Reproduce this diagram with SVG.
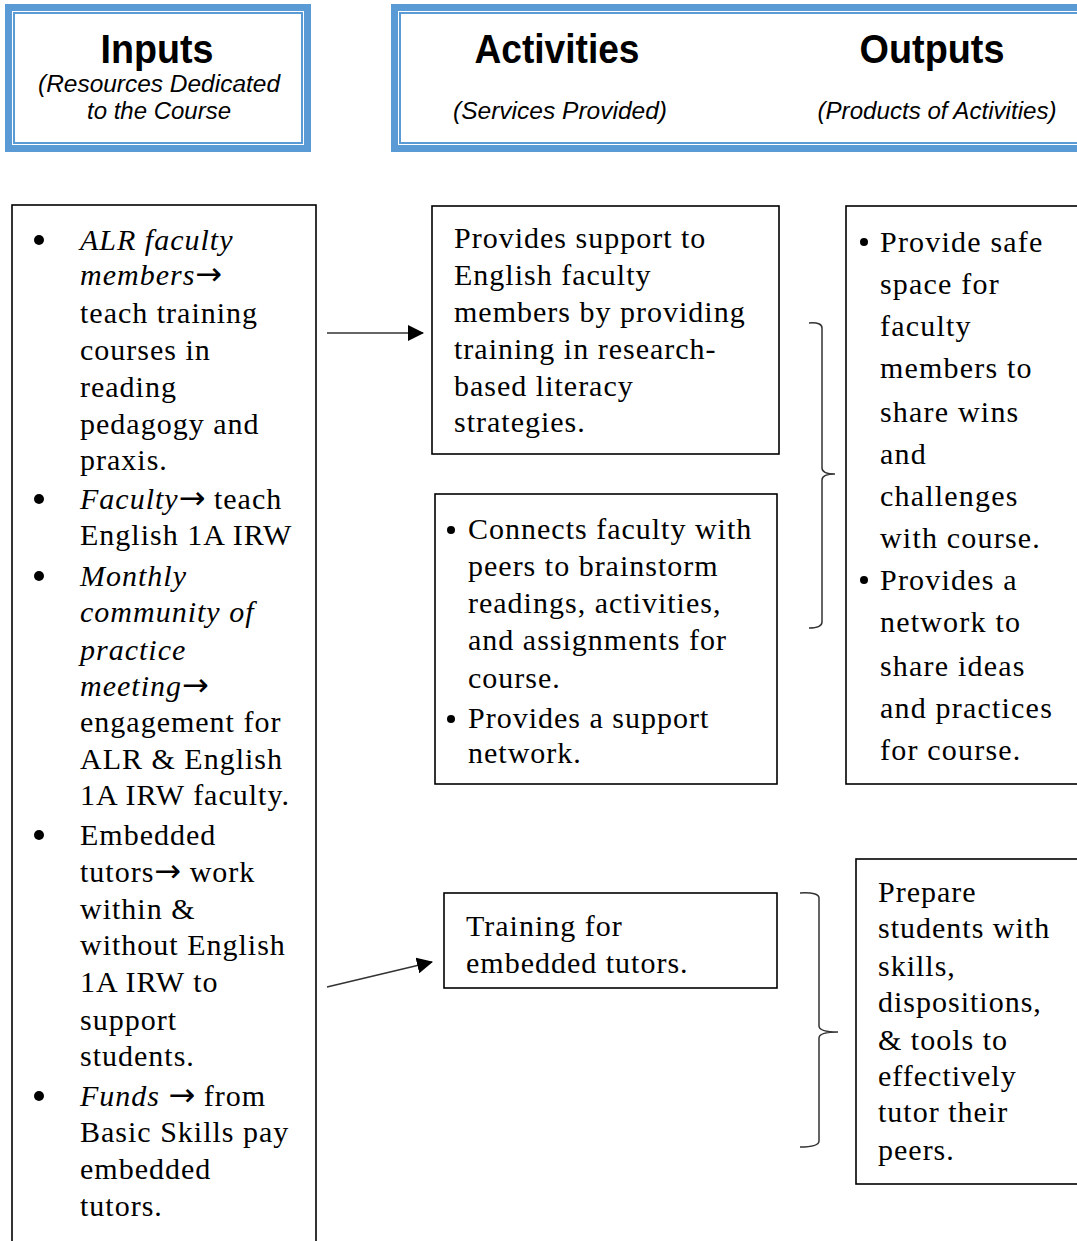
<svg xmlns="http://www.w3.org/2000/svg" width="1077" height="1241" viewBox="0 0 1077 1241">
<style>
.hb{fill:none;stroke:#5b9bd5;}
.box{fill:#fff;stroke:#000;stroke-width:1.6;}
.t{font-family:"Liberation Serif","Times New Roman",serif;font-size:30px;letter-spacing:1px;fill:#000;}
.w{letter-spacing:1.2px;}
.i{font-style:italic;}
.ar{font-family:"DejaVu Sans",sans-serif;font-size:32px;letter-spacing:0;}
.h{font-family:"Liberation Sans",Arial,sans-serif;font-weight:bold;font-size:40px;fill:#000;text-anchor:middle;}
.s{font-family:"Liberation Sans",Arial,sans-serif;font-style:italic;font-size:23px;fill:#000;text-anchor:middle;}
.c{fill:none;stroke:#333;stroke-width:1.5;}
.br{fill:none;stroke:#333;stroke-width:1.5;}
.bl{fill:#000;}
</style>
<defs>
<marker id="ah" markerWidth="16" markerHeight="16" refX="15" refY="8" orient="auto" markerUnits="userSpaceOnUse" viewBox="0 0 16 16">
<path d="M0,0 L16,8 L0,16 z" fill="#000"/>
</marker>
</defs>
<rect width="1077" height="1241" fill="#fff"/>

<g id="header-inputs">
<rect class="hb" x="8.5" y="7.5" width="299" height="141" stroke-width="7"/>
<rect class="hb" x="14" y="13" width="288" height="130" stroke-width="2"/>
<text class="h" x="157" y="63" textLength="113" lengthAdjust="spacingAndGlyphs">Inputs</text>
<text class="s" x="159" y="92" textLength="242" lengthAdjust="spacingAndGlyphs">(Resources Dedicated</text>
<text class="s" x="159" y="119" textLength="144" lengthAdjust="spacingAndGlyphs">to the Course</text>
</g>

<g id="header-activities-outputs">
<rect class="hb" x="394.5" y="7.5" width="700" height="141" stroke-width="7"/>
<rect class="hb" x="400" y="13" width="700" height="130" stroke-width="2"/>
<text class="h" x="557" y="63" textLength="165" lengthAdjust="spacingAndGlyphs">Activities</text>
<text class="h" x="932" y="63" textLength="145" lengthAdjust="spacingAndGlyphs">Outputs</text>
<text class="s" x="560" y="119" textLength="214" lengthAdjust="spacingAndGlyphs">(Services Provided)</text>
<text class="s" x="937" y="119" textLength="239" lengthAdjust="spacingAndGlyphs">(Products of Activities)</text>
</g>

<g id="inputs">
<rect class="box" x="12" y="205" width="304" height="1045"/>
<circle class="bl" cx="39" cy="240" r="5"/>
<circle class="bl" cx="39" cy="499" r="5"/>
<circle class="bl" cx="39" cy="576" r="5"/>
<circle class="bl" cx="39" cy="835" r="5"/>
<circle class="bl" cx="39" cy="1096" r="5"/>
<g class="t">
<text x="80" y="250" class="i">ALR faculty</text>
<text x="80" y="285"><tspan class="i">members</tspan><tspan class="ar">→</tspan></text>
<text x="80" y="323">teach training</text>
<text x="80" y="360">courses in</text>
<text x="80" y="397">reading</text>
<text x="80" y="434">pedagogy and</text>
<text x="80" y="470">praxis.</text>
<text x="80" y="509"><tspan class="i">Faculty</tspan><tspan class="ar">→</tspan> teach</text>
<text x="80" y="545">English 1A IRW</text>
<text x="80" y="586" class="i">Monthly</text>
<text x="80" y="622" class="i">community of</text>
<text x="80" y="660" class="i">practice</text>
<text x="80" y="696"><tspan class="i">meeting</tspan><tspan class="ar">→</tspan></text>
<text x="80" y="732">engagement for</text>
<text x="80" y="769">ALR &amp; English</text>
<text x="80" y="805">1A IRW faculty.</text>
<text x="80" y="845">Embedded</text>
<text x="80" y="882">tutors<tspan class="ar">→</tspan> work</text>
<text x="80" y="919">within &amp;</text>
<text x="80" y="955">without English</text>
<text x="80" y="992">1A IRW to</text>
<text x="80" y="1030">support</text>
<text x="80" y="1066">students.</text>
<text x="80" y="1106"><tspan class="i">Funds</tspan> <tspan class="ar">→</tspan> from</text>
<text x="80" y="1142">Basic Skills pay</text>
<text x="80" y="1179">embedded</text>
<text x="80" y="1216">tutors.</text>
</g>
</g>

<g id="activity-1">
<rect class="box" x="432" y="206" width="347" height="248"/>
<g class="t">
<text x="454" y="248">Provides support to</text>
<text x="454" y="285">English faculty</text>
<text x="454" y="322">members by providing</text>
<text x="454" y="359">training in research-</text>
<text x="454" y="396">based literacy</text>
<text x="454" y="432">strategies.</text>
</g>
</g>

<g id="activity-2">
<rect class="box" x="435" y="494" width="342" height="290"/>
<circle class="bl" cx="451" cy="530" r="4"/>
<circle class="bl" cx="451" cy="719" r="4"/>
<g class="t">
<text x="468" y="539">Connects faculty with</text>
<text x="468" y="576">peers to brainstorm</text>
<text x="468" y="613">readings, activities,</text>
<text x="468" y="650">and assignments for</text>
<text x="468" y="688">course.</text>
<text x="468" y="728">Provides a support</text>
<text x="468" y="763">network.</text>
</g>
</g>

<g id="activity-3">
<rect class="box" x="444" y="893" width="333" height="95"/>
<g class="t">
<text x="466" y="936">Training for</text>
<text x="466" y="973">embedded tutors.</text>
</g>
</g>

<g id="output-1">
<rect class="box" x="846" y="206" width="250" height="578"/>
<circle class="bl" cx="864" cy="242" r="4"/>
<circle class="bl" cx="864" cy="580" r="4"/>
<g class="t w">
<text x="880" y="252">Provide safe</text>
<text x="880" y="294">space for</text>
<text x="880" y="336">faculty</text>
<text x="880" y="378">members to</text>
<text x="880" y="422">share wins</text>
<text x="880" y="464">and</text>
<text x="880" y="506">challenges</text>
<text x="880" y="548">with course.</text>
<text x="880" y="590">Provides a</text>
<text x="880" y="632">network to</text>
<text x="880" y="676">share ideas</text>
<text x="880" y="718">and practices</text>
<text x="880" y="760">for course.</text>
</g>
</g>

<g id="output-2">
<rect class="box" x="856" y="859" width="240" height="325"/>
<g class="t">
<text x="878" y="902">Prepare</text>
<text x="878" y="938">students with</text>
<text x="878" y="976">skills,</text>
<text x="878" y="1012">dispositions,</text>
<text x="878" y="1050">&amp; tools to</text>
<text x="878" y="1086">effectively</text>
<text x="878" y="1122">tutor their</text>
<text x="878" y="1160">peers.</text>
</g>
</g>

<g id="connectors">
<line class="c" x1="327" y1="333" x2="423" y2="333" marker-end="url(#ah)"/>
<line class="c" x1="327" y1="987" x2="432" y2="962" marker-end="url(#ah)"/>
<path class="br" d="M809,323 Q822,322 822,328 L822,468 Q822,474 835,474 Q822,474 822,480 L822,622 Q822,628 809,628"/>
<path class="br" d="M800,893 Q819,892 819,898 L819,1026 Q819,1032 838,1032 Q819,1032 819,1038 L819,1141 Q819,1147 800,1147"/>
</g>
</svg>
